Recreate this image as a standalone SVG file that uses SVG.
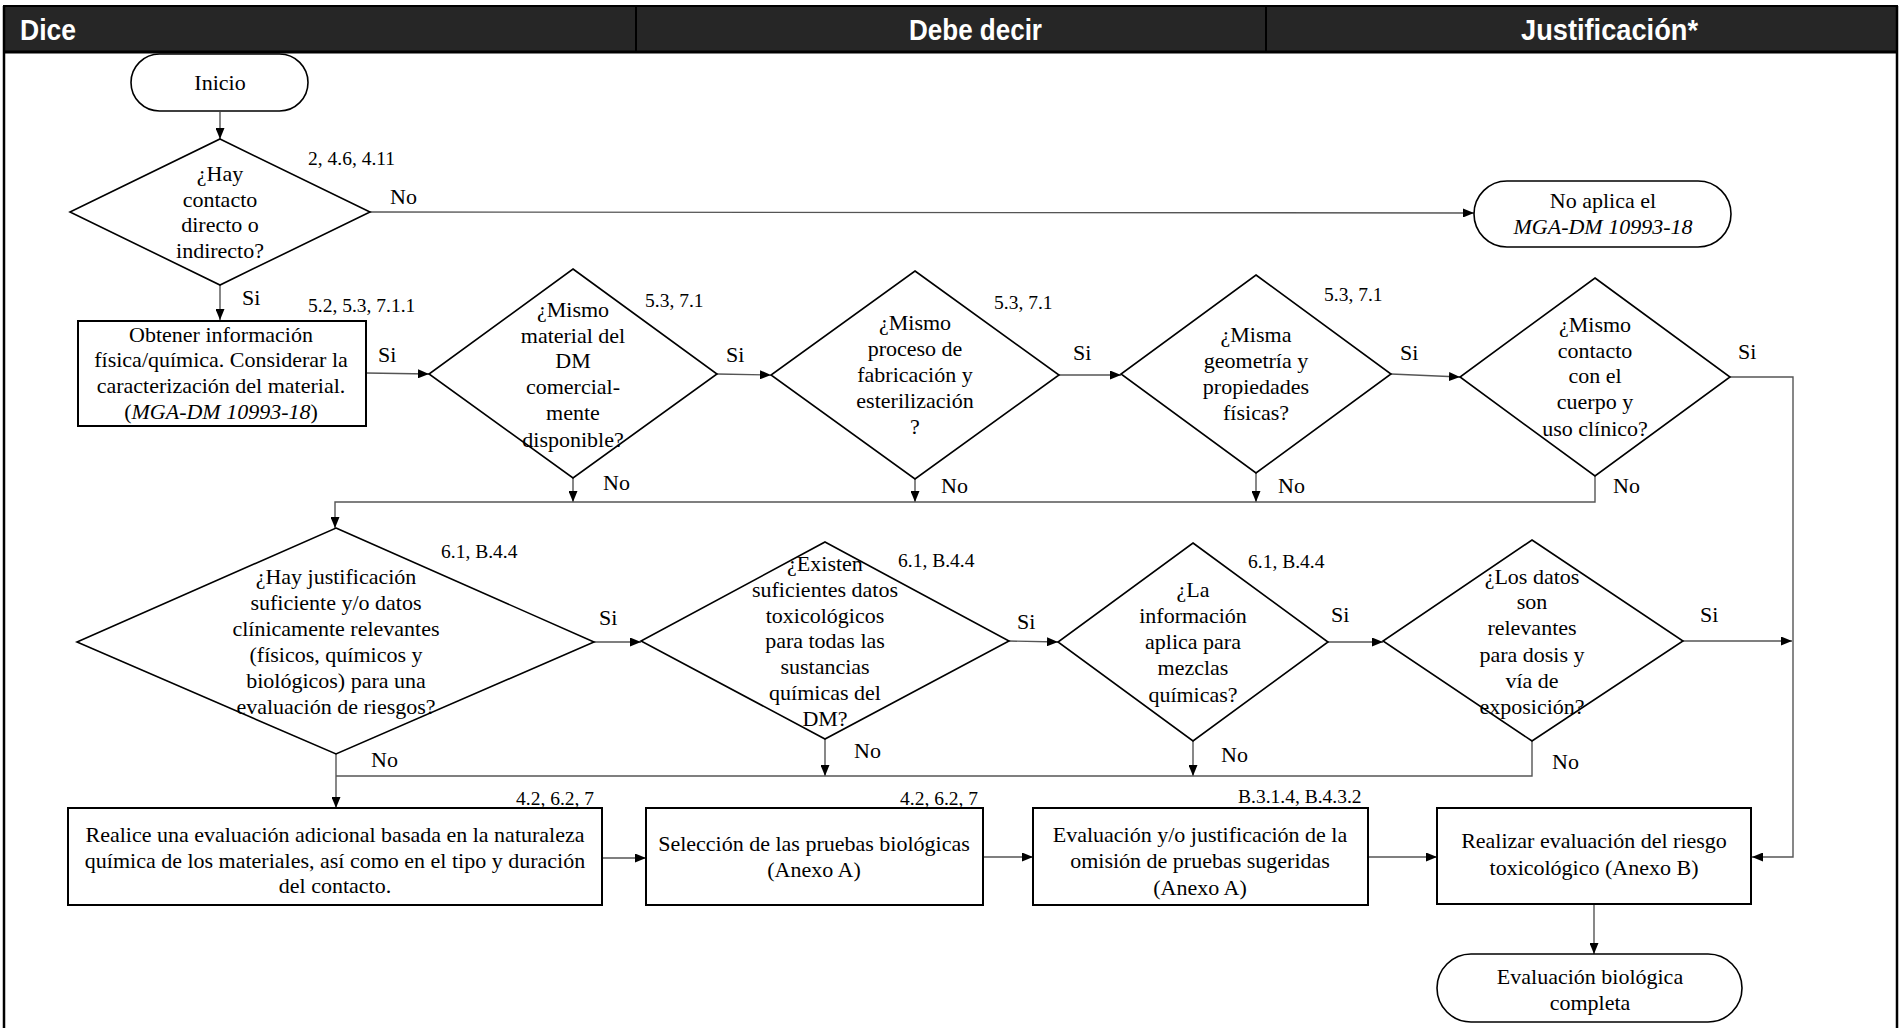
<svg xmlns="http://www.w3.org/2000/svg" width="1903" height="1028" viewBox="0 0 1903 1028">
<defs>
<style>
.hdr{font-family:"Liberation Sans",Arial,sans-serif;font-weight:bold;font-size:30px;fill:#fff}
.t{font-family:"Liberation Serif","Times New Roman",serif;font-size:22px;fill:#000;text-anchor:middle}
.i{font-style:italic}
.lbl{font-family:"Liberation Serif","Times New Roman",serif;font-size:19.5px;fill:#000}
.yn{font-family:"Liberation Serif","Times New Roman",serif;font-size:22px;fill:#000}
.box{fill:none;stroke:#000;stroke-width:2}
.dia{fill:none;stroke:#000;stroke-width:1.6}
.pill{fill:none;stroke:#000;stroke-width:1.6}
.c{fill:none;stroke:#555;stroke-width:1.4}
.ca{fill:none;stroke:#555;stroke-width:1.4;marker-end:url(#ah)}
</style>
<marker id="ah" markerWidth="11" markerHeight="9" refX="11" refY="4.5" orient="auto" markerUnits="userSpaceOnUse">
<path d="M0,0 L11,4.5 L0,9 z" fill="#000"/>
</marker>
</defs>
<rect x="0" y="0" width="1903" height="1028" fill="#fff"/>

<g id="frame">
<rect x="4" y="6" width="1893" height="46" fill="#262626" stroke="#000" stroke-width="2"/>
<line x1="636" y1="6" x2="636" y2="52" stroke="#000" stroke-width="2"/>
<line x1="1266" y1="6" x2="1266" y2="52" stroke="#000" stroke-width="2"/>
<line x1="4" y1="52" x2="1897" y2="52" stroke="#000" stroke-width="3"/>
<line x1="4" y1="6" x2="4" y2="1028" stroke="#000" stroke-width="2.5"/>
<line x1="1897" y1="6" x2="1897" y2="1028" stroke="#000" stroke-width="2.5"/>
<text class="hdr" x="20" y="40" textLength="56" lengthAdjust="spacingAndGlyphs">Dice</text>
<text class="hdr" x="909" y="40" textLength="133" lengthAdjust="spacingAndGlyphs">Debe decir</text>
<text class="hdr" x="1521" y="40" textLength="177" lengthAdjust="spacingAndGlyphs">Justificación*</text>
</g>

<g id="connectors">
<line class="ca" x1="220" y1="112" x2="220" y2="139"/>
<line class="ca" x1="370" y1="212" x2="1474" y2="213"/>
<line class="ca" x1="220" y1="285" x2="220" y2="320"/>
<line class="ca" x1="366" y1="373" x2="429" y2="374"/>
<line class="ca" x1="717" y1="374" x2="771" y2="375"/>
<line class="ca" x1="1059" y1="375" x2="1121" y2="375"/>
<line class="ca" x1="1391" y1="374" x2="1460" y2="377"/>
<polyline class="ca" points="1730,377 1793,377 1793,857 1752,857"/>
<line class="ca" x1="573" y1="478" x2="573" y2="502"/>
<line class="ca" x1="915" y1="479" x2="915" y2="502"/>
<line class="ca" x1="1256" y1="473" x2="1256" y2="502"/>
<polyline class="ca" points="1595,476 1595,502 335,502 335,528"/>
<line class="ca" x1="594" y1="642" x2="641" y2="642"/>
<line class="ca" x1="1009" y1="641" x2="1058" y2="642"/>
<line class="ca" x1="1328" y1="642" x2="1383" y2="642"/>
<line class="ca" x1="1683" y1="641" x2="1792" y2="641"/>
<line class="ca" x1="336" y1="754" x2="336" y2="808"/>
<line class="ca" x1="825" y1="739" x2="825" y2="776"/>
<line class="ca" x1="1193" y1="741" x2="1193" y2="776"/>
<polyline class="c" points="1532,741 1532,776 336,776"/>
<line class="ca" x1="602" y1="858" x2="646" y2="858"/>
<line class="ca" x1="983" y1="857" x2="1033" y2="857"/>
<line class="ca" x1="1368" y1="857" x2="1437" y2="857"/>
<line class="ca" x1="1594" y1="904" x2="1594" y2="954"/>
</g>

<g id="labels">
<text class="lbl" x="308" y="165">2, 4.6, 4.11</text>
<text class="yn" x="390" y="204">No</text>
<text class="yn" x="242" y="305">Si</text>
<text class="lbl" x="308" y="312">5.2, 5.3, 7.1.1</text>
<text class="yn" x="378" y="362">Si</text>
<text class="lbl" x="645" y="307">5.3, 7.1</text>
<text class="yn" x="726" y="362">Si</text>
<text class="yn" x="603" y="490">No</text>
<text class="lbl" x="994" y="309">5.3, 7.1</text>
<text class="yn" x="1073" y="360">Si</text>
<text class="yn" x="941" y="493">No</text>
<text class="lbl" x="1324" y="301">5.3, 7.1</text>
<text class="yn" x="1400" y="360">Si</text>
<text class="yn" x="1278" y="493">No</text>
<text class="yn" x="1738" y="359">Si</text>
<text class="yn" x="1613" y="493">No</text>
<text class="lbl" x="441" y="558">6.1, B.4.4</text>
<text class="yn" x="599" y="625">Si</text>
<text class="yn" x="371" y="767">No</text>
<text class="lbl" x="898" y="567">6.1, B.4.4</text>
<text class="yn" x="1017" y="629">Si</text>
<text class="yn" x="854" y="758">No</text>
<text class="lbl" x="1248" y="568">6.1, B.4.4</text>
<text class="yn" x="1331" y="622">Si</text>
<text class="yn" x="1221" y="762">No</text>
<text class="yn" x="1700" y="622">Si</text>
<text class="yn" x="1552" y="769">No</text>
<text class="lbl" x="516" y="805">4.2, 6.2, 7</text>
<text class="lbl" x="900" y="805">4.2, 6.2, 7</text>
<text class="lbl" x="1238" y="803">B.3.1.4, B.4.3.2</text>
</g>

<g id="inicio">
<rect class="pill" x="131" y="54" width="177" height="57" rx="28.5"/>
<text class="t" x="220" y="90">Inicio</text>
</g>

<g id="d1">
<polygon class="dia" points="220,139 370,212 220,285 70,212"/>
<text class="t" x="220" y="181">¿Hay</text>
<text class="t" x="220" y="207">contacto</text>
<text class="t" x="220" y="232">directo o</text>
<text class="t" x="220" y="258">indirecto?</text>
</g>

<g id="noaplica">
<rect class="pill" x="1474" y="181" width="257" height="66" rx="33"/>
<text class="t" x="1603" y="208">No aplica el</text>
<text class="t i" x="1603" y="234">MGA-DM 10993-18</text>
</g>

<g id="obtener">
<rect class="box" x="78" y="321" width="288" height="105"/>
<text class="t" x="221" y="342">Obtener información</text>
<text class="t" x="221" y="367">física/química. Considerar la</text>
<text class="t" x="221" y="393">caracterización  del material.</text>
<text class="t" x="221" y="419">(<tspan class="i">MGA-DM 10993-18</tspan>)</text>
</g>

<g id="d2">
<polygon class="dia" points="573,269 717,374 573,478 429,374"/>
<text class="t" x="573" y="317">¿Mismo</text>
<text class="t" x="573" y="343">material  del</text>
<text class="t" x="573" y="368">DM</text>
<text class="t" x="573" y="394">comercial-</text>
<text class="t" x="573" y="420">mente</text>
<text class="t" x="573" y="447">disponible?</text>
</g>

<g id="d3">
<polygon class="dia" points="915,271 1059,375 915,479 771,375"/>
<text class="t" x="915" y="330">¿Mismo</text>
<text class="t" x="915" y="356">proceso de</text>
<text class="t" x="915" y="382">fabricación y</text>
<text class="t" x="915" y="408">esterilización</text>
<text class="t" x="915" y="434">?</text>
</g>

<g id="d4">
<polygon class="dia" points="1256,275 1391,374 1256,473 1121,374"/>
<text class="t" x="1256" y="342">¿Misma</text>
<text class="t" x="1256" y="368">geometría y</text>
<text class="t" x="1256" y="394">propiedades</text>
<text class="t" x="1256" y="420">físicas?</text>
</g>

<g id="d5">
<polygon class="dia" points="1595,278 1730,377 1595,476 1460,377"/>
<text class="t" x="1595" y="332">¿Mismo</text>
<text class="t" x="1595" y="358">contacto</text>
<text class="t" x="1595" y="383">con el</text>
<text class="t" x="1595" y="409">cuerpo y</text>
<text class="t" x="1595" y="436">uso clínico?</text>
</g>

<g id="d6">
<polygon class="dia" points="336,528 594,642 336,754 77,642"/>
<text class="t" x="336" y="584">¿Hay justificación</text>
<text class="t" x="336" y="610">suficiente y/o datos</text>
<text class="t" x="336" y="636">clínicamente relevantes</text>
<text class="t" x="336" y="662">(físicos, químicos y</text>
<text class="t" x="336" y="688">biológicos) para una</text>
<text class="t" x="336" y="714">evaluación de riesgos?</text>
</g>

<g id="d7">
<polygon class="dia" points="825,542 1009,641 825,739 641,641"/>
<text class="t" x="825" y="571">¿Existen</text>
<text class="t" x="825" y="597">suficientes datos</text>
<text class="t" x="825" y="623">toxicológicos</text>
<text class="t" x="825" y="648">para todas las</text>
<text class="t" x="825" y="674">sustancias</text>
<text class="t" x="825" y="700">químicas del</text>
<text class="t" x="825" y="726">DM?</text>
</g>

<g id="d8">
<polygon class="dia" points="1193,543 1328,642 1193,741 1058,642"/>
<text class="t" x="1193" y="597">¿La</text>
<text class="t" x="1193" y="623">información</text>
<text class="t" x="1193" y="649">aplica para</text>
<text class="t" x="1193" y="675">mezclas</text>
<text class="t" x="1193" y="702">químicas?</text>
</g>

<g id="d9">
<polygon class="dia" points="1532,540 1683,641 1532,741 1383,641"/>
<text class="t" x="1532" y="584">¿Los datos</text>
<text class="t" x="1532" y="609">son</text>
<text class="t" x="1532" y="635">relevantes</text>
<text class="t" x="1532" y="662">para dosis y</text>
<text class="t" x="1532" y="688">vía de</text>
<text class="t" x="1532" y="714">exposición?</text>
</g>

<g id="boxA">
<rect class="box" x="68" y="808" width="534" height="97"/>
<text class="t" x="335" y="842">Realice una evaluación adicional basada en la naturaleza</text>
<text class="t" x="335" y="868">química de los  materiales, así como en el tipo y duración</text>
<text class="t" x="335" y="893">del contacto.</text>
</g>

<g id="boxB">
<rect class="box" x="646" y="808" width="337" height="97"/>
<text class="t" x="814" y="851">Selección de las pruebas biológicas</text>
<text class="t" x="814" y="877">(Anexo A)</text>
</g>

<g id="boxC">
<rect class="box" x="1033" y="808" width="335" height="97"/>
<text class="t" x="1200" y="842">Evaluación y/o justificación de la</text>
<text class="t" x="1200" y="868">omisión de pruebas sugeridas</text>
<text class="t" x="1200" y="895">(Anexo A)</text>
</g>

<g id="boxD">
<rect class="box" x="1437" y="808" width="314" height="96"/>
<text class="t" x="1594" y="848">Realizar  evaluación del riesgo</text>
<text class="t" x="1594" y="875">toxicológico  (Anexo B)</text>
</g>

<g id="fin">
<rect class="pill" x="1437" y="954" width="305" height="68" rx="34"/>
<text class="t" x="1590" y="984">Evaluación biológica</text>
<text class="t" x="1590" y="1010">completa</text>
</g>
</svg>
